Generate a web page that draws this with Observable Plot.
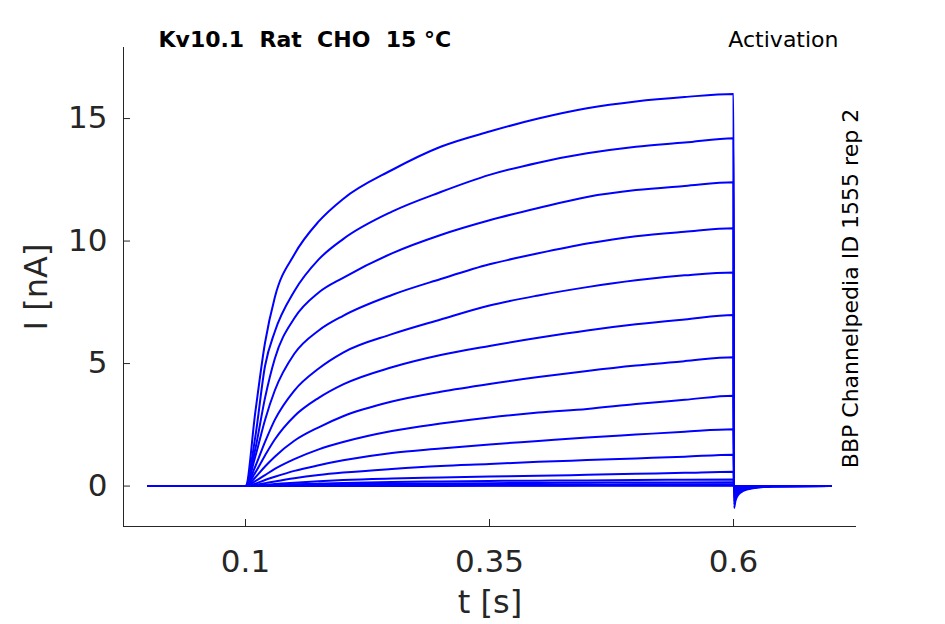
<!DOCTYPE html>
<html>
<head>
<meta charset="utf-8">
<script src="https://cdn.jsdelivr.net/npm/d3@7"></script>
<script src="https://cdn.jsdelivr.net/npm/@observablehq/plot@0.6"></script>
<style>
  html, body { margin: 0; padding: 0; background: #fff; }
  #chart { width: 945px; height: 624px; }
</style>
</head>
<body>
<div id="chart"></div>
<script>
// ---- data ----
const time = [0, 0.1, 0.11, 0.12, 0.13, 0.15, 0.175, 0.2, 0.25, 0.3, 0.35, 0.4, 0.45, 0.5, 0.55, 0.6,
              0.6005, 0.602, 0.605, 0.61, 0.62, 0.64, 0.7];

const traces = [
  [0, 0, 3.0, 5.85, 7.7, 9.45, 10.8, 11.72, 12.9, 13.85, 14.47, 15.0, 15.42, 15.7, 15.88, 16.0, -0.9, -0.6, -0.35, -0.2, -0.09, -0.02, 0],
  [0, 0, 2.0, 4.9, 6.3, 7.95, 9.25, 10.08, 11.2, 12.0, 12.7, 13.2, 13.58, 13.85, 14.02, 14.2, -0.75, -0.5, -0.29, -0.16, -0.07, -0.015, 0],
  [0, 0, 1.5, 3.6, 5.2, 6.85, 7.9, 8.5, 9.5, 10.25, 10.85, 11.35, 11.8, 12.08, 12.25, 12.4, -0.62, -0.41, -0.24, -0.13, -0.06, -0.01, 0],
  [0, 0, 1.2, 2.7, 3.9, 5.4, 6.35, 6.95, 7.8, 8.45, 9.05, 9.5, 9.9, 10.2, 10.38, 10.52, -0.5, -0.33, -0.19, -0.1, -0.045, -0.01, 0],
  [0, 0, 0.8, 1.8, 2.7, 3.9, 4.8, 5.45, 6.2, 6.8, 7.37, 7.78, 8.12, 8.4, 8.6, 8.72, -0.4, -0.26, -0.15, -0.08, -0.035, -0.005, 0],
  [0, 0, 0.55, 1.25, 1.9, 2.85, 3.6, 4.15, 4.85, 5.35, 5.72, 6.05, 6.35, 6.6, 6.8, 6.98, -0.3, -0.2, -0.11, -0.06, -0.025, 0, 0],
  [0, 0, 0.35, 0.8, 1.2, 1.85, 2.4, 2.85, 3.45, 3.85, 4.17, 4.45, 4.7, 4.92, 5.1, 5.26, -0.22, -0.14, -0.08, -0.04, -0.015, 0, 0],
  [0, 0, 0.2, 0.45, 0.7, 1.1, 1.5, 1.8, 2.25, 2.55, 2.8, 3.0, 3.15, 3.35, 3.52, 3.69, -0.15, -0.1, -0.05, -0.03, -0.01, 0, 0],
  [0, 0, 0.1, 0.25, 0.38, 0.62, 0.85, 1.05, 1.35, 1.53, 1.7, 1.84, 1.98, 2.1, 2.22, 2.32, -0.1, -0.06, -0.03, -0.015, 0, 0, 0],
  [0, 0, 0.05, 0.12, 0.19, 0.32, 0.45, 0.55, 0.7, 0.82, 0.9, 0.99, 1.06, 1.13, 1.2, 1.28, -0.06, -0.035, -0.02, -0.01, 0, 0, 0],
  [0, 0, 0.02, 0.05, 0.08, 0.14, 0.2, 0.25, 0.31, 0.35, 0.39, 0.42, 0.46, 0.5, 0.54, 0.58, -0.03, -0.02, -0.01, 0, 0, 0, 0],
  [0, 0, 0.01, 0.03, 0.04, 0.07, 0.1, 0.13, 0.17, 0.19, 0.21, 0.22, 0.23, 0.25, 0.26, 0.27, -0.02, -0.01, 0, 0, 0, 0, 0],
  [0, 0, 0.01, 0.02, 0.03, 0.05, 0.07, 0.08, 0.1, 0.11, 0.12, 0.13, 0.14, 0.15, 0.15, 0.16, -0.01, 0, 0, 0, 0, 0, 0],
  [0, 0, 0, 0.01, 0.01, 0.02, 0.03, 0.04, 0.05, 0.05, 0.06, 0.06, 0.06, 0.07, 0.07, 0.07, 0, 0, 0, 0, 0, 0, 0],
  [0, 0, 0, 0, 0.01, 0.01, 0.01, 0.02, 0.02, 0.02, 0.02, 0.02, 0.03, 0.03, 0.03, 0.03, 0, 0, 0, 0, 0, 0, 0],
  [0, 0, 0, 0, 0, 0, 0, 0, 0, 0, 0.01, 0.01, 0.01, 0.01, 0.01, 0.01, 0, 0, 0, 0, 0, 0, 0]
];

const xDomain = [-0.025, 0.726];
const yDomain = [-1.65, 17.9];
const xTicks = [0.1, 0.35, 0.6];
const yTicks = [0, 5, 10, 15];

const title = "Kv10.1\u00a0\u00a0Rat\u00a0\u00a0CHO\u00a0\u00a015\u00a0°C";
const protocol = "Activation";
const sourceLabel = "BBP Channelpedia ID 1555 rep 2";
const xLabel = "t [s]";
const yLabel = "I [nA]";

// ---- build the long table ----
const rows = [];
traces.forEach((vals, k) => {
  vals.forEach((v, i) => rows.push({trace: k, t: time[i], I: v}));
});

const axisColor = "#262626";
const font = "DejaVu Sans";

const chart = Plot.plot({
  width: 945,
  height: 624,
  marginLeft: 123,
  marginRight: 89,
  marginTop: 47,
  marginBottom: 98,
  x: {domain: xDomain, axis: null},
  y: {domain: yDomain, axis: null},
  style: {fontFamily: font, background: "white", color: axisColor},
  marks: [
    Plot.ruleX([xDomain[0]], {stroke: axisColor, strokeWidth: 1}),
    Plot.ruleY([yDomain[0]], {stroke: axisColor, strokeWidth: 1}),
    Plot.tickY(yTicks, {y: d => d, stroke: axisColor, insetRight: 726}),
    Plot.tickX(xTicks, {x: d => d, stroke: axisColor, insetTop: 472}),
    Plot.line(rows, {x: "t", y: "I", z: "trace", stroke: "#0000ff", strokeWidth: 2, curve: "monotone-x"}),
    Plot.text(yTicks, {y: d => d, text: d => String(d), frameAnchor: "left", dx: -16, textAnchor: "end", lineAnchor: "middle", fontSize: 31, fill: axisColor}),
    Plot.text(xTicks, {x: d => d, text: d => String(d), frameAnchor: "bottom", dy: 23, textAnchor: "middle", lineAnchor: "top", fontSize: 31, fill: axisColor}),
    Plot.text([xLabel], {text: d => d, frameAnchor: "bottom", dy: 64, textAnchor: "middle", lineAnchor: "top", fontSize: 32, fill: axisColor}),
    Plot.text([yLabel], {text: d => d, frameAnchor: "left", dx: -99, rotate: -90, textAnchor: "middle", lineAnchor: "top", fontSize: 32, fill: axisColor}),
    Plot.text([title], {text: d => d, frameAnchor: "top-left", dx: 35, dy: -8, textAnchor: "start", lineAnchor: "middle", fontSize: 22, fontWeight: "bold", fill: "#000"}),
    Plot.text([protocol], {text: d => d, frameAnchor: "top-right", dx: -18, dy: -8, textAnchor: "end", lineAnchor: "middle", fontSize: 22, fill: "#000"}),
    Plot.text([sourceLabel], {text: d => d, frameAnchor: "right", dx: -14, dy: 1.5, rotate: -90, textAnchor: "middle", lineAnchor: "top", fontSize: 22, fill: "#000"})
  ]
});

document.getElementById("chart").appendChild(chart);
</script>
</body>
</html>
